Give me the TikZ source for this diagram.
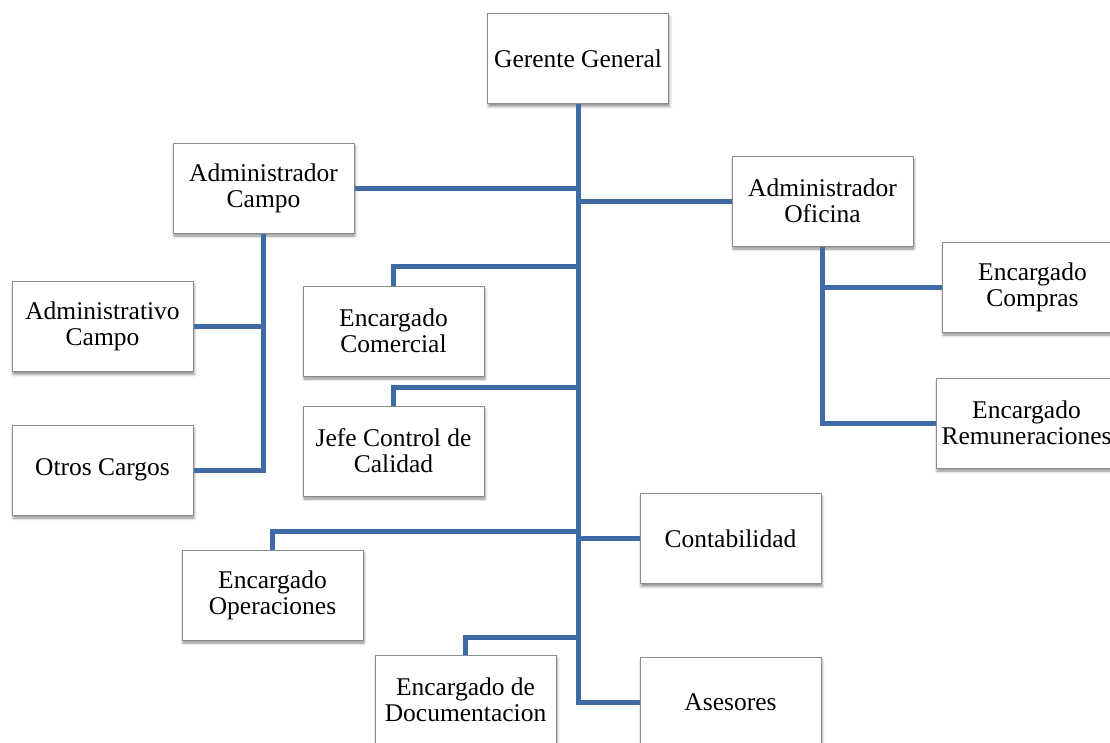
\documentclass[tikz,border=0pt]{standalone}
\usepackage{fontspec}
\setmainfont{Liberation Serif}
\usetikzlibrary{shadows.blur}
\definecolor{linkblue}{RGB}{62,106,166}
\definecolor{boxline}{RGB}{140,140,140}
\tikzset{
  post/.style={draw=boxline, line width=1pt, fill=white,
    minimum width=181pt, minimum height=90pt, text width=171pt,
    inner xsep=5pt, inner ysep=0pt, align=flush center,
    font=\fontsize{25.5}{26}\selectfont,
    blur shadow={shadow xshift=1pt, shadow yshift=-3pt,
      shadow blur radius=2.5pt, shadow opacity=45}},
  link/.style={draw=linkblue, line width=5pt, line join=miter}
}
\begin{document}
\begin{tikzpicture}[x=1pt, y=-1pt]
\useasboundingbox (0,0) rectangle (1110,742);
\clip (0,0) rectangle (1110,742);

% positions
\node[post] (gg)   at (578,58.5)   {Gerente General};
\node[post] (ac)   at (263.5,188)  {Administrador\\Campo};
\node[post] (ao)   at (822.5,201)  {Administrador\\Oficina};
\node[post] (adc)  at (102.5,326.5){Administrativo\\Campo};
\node[post] (ec)   at (393.5,331)  {Encargado\\Comercial};
\node[post] (ecp)  at (1032.5,287) {Encargado\\Compras};
\node[post] (jc)   at (393.5,451)  {Jefe Control de\\Calidad};
\node[post] (er)   at (1026.5,423) {Encargado\\Remuneraciones};
\node[post] (oc)   at (102.5,470)  {Otros Cargos};
\node[post] (cont) at (730.5,538.5){Contabilidad};
\node[post] (eo)   at (272.5,595)  {Encargado\\Operaciones};
\node[post] (ed)   at (465.5,700)  {Encargado de\\Documentacion};
\node[post] (as)   at (730.5,702)  {Asesores};

% junctions on the main trunk
\coordinate (jec) at (578,266);
\coordinate (jjc) at (578,387);
\coordinate (jeo) at (578,531);
\coordinate (jed) at (578,637);

% main trunk and its branches
\draw[link] (gg.south) |- (as.west);
\draw[link] (ac.east) -- (ac.east -| gg.south);
\draw[link] (ao.west) -- (ao.west -| gg.south);
\draw[link] (jec) -| (ec.north);
\draw[link] (jjc) -| (jc.north);
\draw[link] (cont.west) -- (cont.west -| gg.south);
\draw[link] (jeo) -| (eo.north);
\draw[link] (jed) -| (ed.north);

% field administration
\draw[link] (ac.south) |- (oc.east);
\draw[link] (adc.east) -- (adc.east -| ac.south);

% office administration
\draw[link] (ao.south) |- (er.west);
\draw[link] (ecp.west) -- (ecp.west -| ao.south);
\end{tikzpicture}
\end{document}
